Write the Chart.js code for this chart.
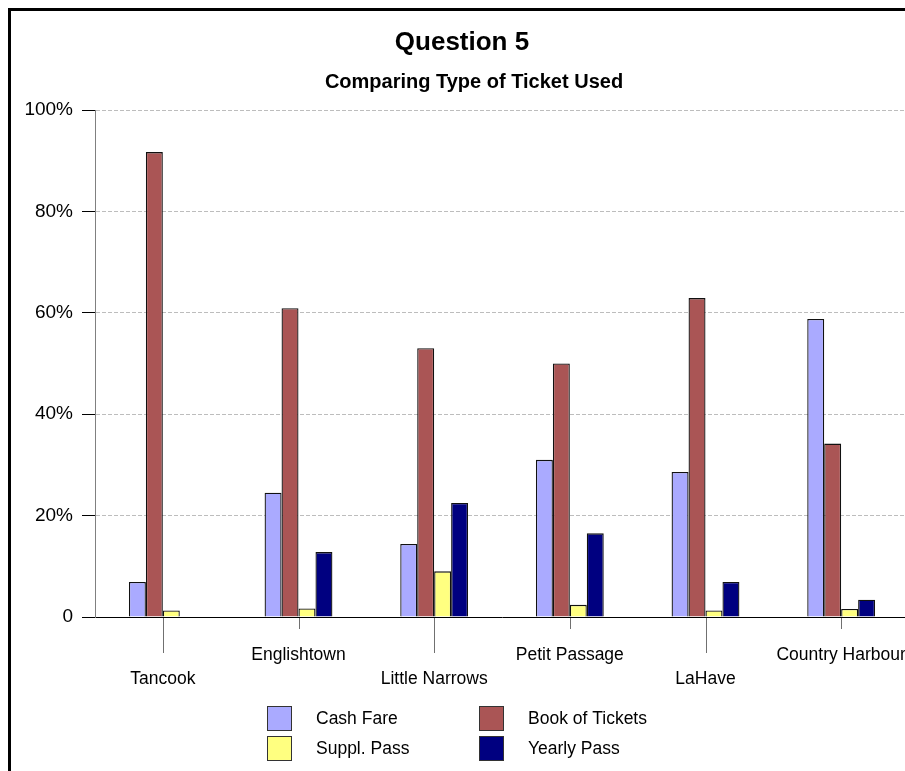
<!DOCTYPE html>
<html>
<head>
<meta charset="utf-8">
<title>Question 5</title>
<script src="https://cdn.jsdelivr.net/npm/chart.js@4/dist/chart.umd.min.js"></script>
<style>
  html, body { margin: 0; padding: 0; overflow: hidden; background: #fff; width: 905px; height: 771px; }
  #frame { position: absolute; left: 8px; top: 8px; width: 2000px; height: 2000px;
           border-left: 3px solid #000; border-top: 3px solid #000; pointer-events: none; }
  #chart { position: absolute; left: 0; top: 0; }
</style>
</head>
<body>
<div id="frame"></div>
<canvas id="chart" width="930" height="771"></canvas>
<script>
// Ferry routes surveyed
const categories = ['Tancook', 'Englishtown', 'Little Narrows', 'Petit Passage', 'LaHave', 'Country Harbour'];

// Share of riders (%) by ticket type
const cashFare      = [6.9, 24.5, 14.4, 31.0, 28.6, 58.8];
const bookOfTickets = [91.7, 60.9, 53.0, 50.0, 62.9, 34.2];
const supplPass     = [1.3, 1.7, 9.0, 2.4, 1.3, 1.6];
const yearlyPass    = [0, 12.8, 22.5, 16.5, 6.9, 3.4];

const seriesNames = ['Cash Fare', 'Book of Tickets', 'Suppl. Pass', 'Yearly Pass'];
const yTicks = [0, 20, 40, 60, 80, 100];

const FONT = "'Liberation Sans', Arial, sans-serif";
const colors = ['#aaaaff', '#aa5555', '#ffff80', '#000080'];

// Titles above the plot
const titlePlugin = {
  id: 'titles',
  afterDraw(chart) {
    const ctx = chart.ctx;
    ctx.save();
    ctx.fillStyle = '#000';
    ctx.textAlign = 'center';
    ctx.textBaseline = 'middle';
    ctx.font = 'bold 26px ' + FONT;
    ctx.fillText('Question 5', 462, 43);
    ctx.font = 'bold 20px ' + FONT;
    ctx.fillText('Comparing Type of Ticket Used', 474, 82);
    ctx.restore();
  }
};

// Category tick marks, alternating long/short to match the staggered labels
const categoryTicks = {
  id: 'categoryTicks',
  afterDraw(chart) {
    const x = chart.scales.x;
    const ctx = chart.ctx;
    const base = chart.chartArea.bottom;
    ctx.save();
    ctx.strokeStyle = '#707070';
    ctx.lineWidth = 1;
    categories.forEach((c, i) => {
      const px = Math.round(x.getPixelForValue(i)) + 0.5;
      const len = i % 2 === 0 ? 36 : 12;
      ctx.beginPath();
      ctx.moveTo(px, base + 1);
      ctx.lineTo(px, base + len);
      ctx.stroke();
    });
    ctx.restore();
  }
};

// Two-column legend below the axis
const gridLegend = {
  id: 'gridLegend',
  afterDraw(chart) {
    const ctx = chart.ctx;
    const cols = [267.5, 479.5];
    const textCols = [316, 528];
    const rows = [706.5, 736.5];
    ctx.save();
    ctx.font = '17.5px ' + FONT;
    ctx.textAlign = 'left';
    ctx.textBaseline = 'middle';
    chart.data.datasets.forEach((ds, i) => {
      const c = i % 2, r = Math.floor(i / 2);
      ctx.fillStyle = ds.backgroundColor;
      ctx.fillRect(cols[c], rows[r], 24, 24);
      ctx.strokeStyle = '#333';
      ctx.lineWidth = 1;
      ctx.strokeRect(cols[c], rows[r], 24, 24);
      ctx.fillStyle = '#000';
      ctx.fillText(ds.label, textCols[c], rows[r] + 12.5);
    });
    ctx.restore();
  }
};

const values = [cashFare, bookOfTickets, supplPass, yearlyPass];

new Chart(document.getElementById('chart'), {
  type: 'bar',
  data: {
    labels: categories,
    datasets: values.map((v, i) => ({
      label: seriesNames[i],
      data: v,
      backgroundColor: colors[i],
      borderColor: '#111',
      borderWidth: 1.3,
      categoryPercentage: 0.5,
      barPercentage: 1.0
    }))
  },
  options: {
    responsive: false,
    animation: false,
    devicePixelRatio: 1,
    layout: { padding: { top: 110, right: 21, bottom: 0, left: 0 } },
    plugins: {
      legend: { display: false },
      title: { display: false },
      tooltip: { enabled: false }
    },
    scales: {
      x: {
        grid: { display: false },
        border: { display: true, color: '#000', width: 1 },
        ticks: {
          autoSkip: false,
          maxRotation: 0,
          minRotation: 0,
          padding: 18,
          color: '#000',
          font: { family: FONT, size: 17.5, lineHeight: '24px' },
          callback: (v, i) => (i % 2 === 0 ? ['', categories[i]] : [categories[i]])
        },
        afterFit: s => { s.height = 154; }
      },
      y: {
        min: 0,
        max: 100,
        afterBuildTicks: s => { s.ticks = yTicks.map(v => ({ value: v })); },
        grid: {
          color: c => (c.tick && c.tick.value === 0 ? 'rgba(0,0,0,0)' : '#bdbdbd'),
          lineWidth: 1,
          drawTicks: true,
          tickLength: 13,
          tickColor: '#000',
          tickBorderDash: []
        },
        border: { display: true, color: '#808080', width: 1, dash: [4, 2] },
        ticks: {
          padding: 9,
          color: '#000',
          font: { family: FONT, size: 19 },
          callback: v => (v === 0 ? '0' : v + '%')
        },
        afterFit: s => { s.width = 95; }
      }
    }
  },
  plugins: [titlePlugin, categoryTicks, gridLegend]
});
</script>
</body>
</html>
